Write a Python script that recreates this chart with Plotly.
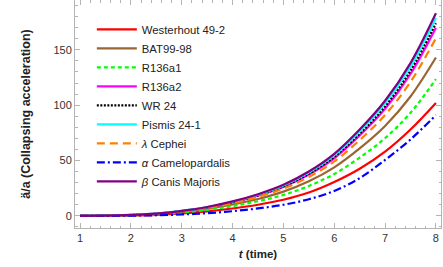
import plotly.graph_objects as go

t = [1, 1.5, 2, 2.5, 3, 3.5, 4, 4.5, 5, 5.5, 6, 6.5, 7, 7.5, 8]

names = ["Westerhout 49-2", "BAT99-98", "R136a1", "R136a2", "WR 24",
         "Pismis 24-1", "<i>λ</i> Cephei", "<i>α</i> Camelopardalis", "<i>β</i> Canis Majoris"]

westerhout = [0, 0, 0.3, 0.9, 2.2, 4.0, 6.6, 10.0, 14.5, 21.0, 30.5, 42.5, 58.0, 78.0, 102.0]
bat99 = [0, 0.1, 0.6, 1.6, 3.5, 6.2, 10.2, 15.2, 21.9, 31.2, 43.8, 60.9, 81.2, 107.8, 143.0]
r136a1 = [0, 0.1, 0.5, 1.4, 3.0, 5.4, 8.8, 13.2, 18.9, 27.0, 37.8, 52.6, 70.2, 93.1, 123.5]
r136a2 = [0, 0.1, 0.7, 1.9, 4.2, 7.4, 12.1, 18.1, 26.0, 37.2, 52.0, 72.5, 96.6, 128.2, 170.0]
wr24 = [0, 0.1, 0.8, 1.9, 4.3, 7.6, 12.4, 18.5, 26.6, 38.0, 53.3, 74.2, 98.9, 131.2, 174.0]
pismis = [0, 0.1, 0.8, 2.0, 4.4, 7.8, 12.7, 19.1, 27.4, 39.1, 54.8, 76.3, 101.7, 135.0, 179.0]
cephei = [0, 0.1, 0.7, 1.8, 3.9, 7.0, 11.4, 17.1, 24.6, 35.1, 49.1, 68.4, 91.2, 121.0, 160.5]
camelopardalis = [0, 0, 0.2, 0.5, 1.2, 2.4, 4.2, 6.7, 10.0, 15.0, 22.5, 34.0, 50.5, 69.0, 91.0]
canis = [0, 0.1, 0.8, 2.0, 4.5, 8.0, 13.0, 19.5, 28.0, 40.0, 56.0, 78.0, 104.0, 138.0, 183.0]

series = [westerhout, bat99, r136a1, r136a2, wr24, pismis, cephei, camelopardalis, canis]
colors = ["#FF0000", "#996633", "#00FF00", "#FF00FF", "#000000",
          "#00FFFF", "#FF8000", "#0000FF", "#800080"]
dashes = ["solid", "solid", "4px,3px", "solid", "2px,1.5px",
          "solid", "8px,5px", "8px,3px,2px,3px", "solid"]

x_ticks = [1, 2, 3, 4, 5, 6, 7, 8]
y_ticks = [0, 50, 100, 150]

fig = go.Figure()
for name, ys, c, d in zip(names, series, colors, dashes):
    fig.add_trace(go.Scatter(x=t, y=ys, mode="lines", name=name,
                             line=dict(color=c, width=2.2, dash=d, shape="spline", smoothing=1.0)))

axis_common = dict(showgrid=False, zeroline=False, showline=True, linecolor="#b4b4b4",
                   linewidth=1, mirror="allticks", ticks="inside", ticklen=5,
                   automargin=False,
                   tickcolor="#b4b4b4", tickfont=dict(size=11, color="#333333",
                                                      family="Liberation Sans, Arial"))

fig.update_xaxes(range=[0.9, 8.1], tickvals=x_ticks,
                 minor=dict(ticks="inside", ticklen=2.5, dtick=0.2, tickcolor="#b4b4b4"),
                 title=dict(text="<b><i>t</i> (time)</b>", font=dict(size=11.5, color="#222222"),
                            standoff=6),
                 **axis_common)
fig.update_yaxes(range=[-11, 195], tickvals=y_ticks,
                 minor=dict(ticks="inside", ticklen=2.5, dtick=10, tickcolor="#b4b4b4"),
                 title=dict(text="<b>ä/a (Collapsing acceleration)</b>",
                            font=dict(size=12.5, color="#222222"), standoff=20),
                 **axis_common)

fig.update_layout(
    width=443, height=267,
    margin=dict(l=75, r=2, t=0, b=39),
    plot_bgcolor="white", paper_bgcolor="white",
    font=dict(family="Liberation Sans, Arial", size=11, color="#222222"),
    legend=dict(x=0.046, y=0.935, xanchor="left", yanchor="top",
                bgcolor="rgba(255,255,255,0)", font=dict(size=11.3, color="#222222"),
                itemwidth=40, tracegroupgap=0),
)

fig.write_html("out.html", config={"displayModeBar": False},
               post_script="document.body.style.margin='0px';")
